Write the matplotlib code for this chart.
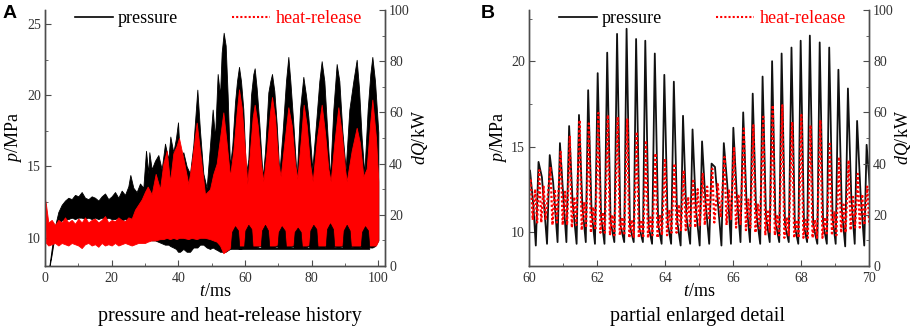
import matplotlib
matplotlib.use("Agg")
import matplotlib.pyplot as plt
from matplotlib.lines import Line2D
from matplotlib.ticker import MultipleLocator

plt.rcParams['font.family'] = 'Liberation Serif'
plt.rcParams['mathtext.fontset'] = 'custom'
plt.rcParams['mathtext.rm'] = 'Liberation Serif'
plt.rcParams['mathtext.it'] = 'Liberation Serif:italic'

# ---- panel A : envelope of pressure (MPa) ----
a_t = [1.0, 2.0, 3.0, 4.0, 5.0, 6, 7, 8, 9, 10, 11, 12, 13, 14, 15, 16, 17, 18, 19, 20,
       21, 22, 23, 24, 25, 25.6, 26.5, 27.5, 28.5, 29.5, 30.3, 31.0, 31.3, 32.0, 33.0, 34.0,
       35.0, 36.0, 37.0, 37.6, 38.5, 39.3, 39.9, 40.5, 41.5, 42.5, 43.5, 44.5, 45.7, 46.5,
       47.5, 48.5, 49.5, 50.3, 51.0, 51.8, 52.5, 53.0, 53.6, 54.2, 54.8, 55.5, 56.2, 57.0,
       57.6, 58.2, 58.8, 59.5, 60.3, 61.0, 61.8, 62.5, 62.9, 63.5, 64.3, 65.3, 66.0, 67.0,
       67.6, 68.1, 68.8, 69.5, 70.3, 71.3, 72.3, 73.0, 73.6, 74.5, 75.5, 76.5, 77.5, 78.3,
       79.0, 80.2, 81.3, 82.3, 83.0, 83.8, 84.8, 85.5, 86.5, 87.5, 88.3, 89.2, 90.2, 91.3,
       92.5, 93.5, 94.2, 95.0, 95.8, 96.8, 97.6, 98.2, 99.0, 100.0]
a_p_hi = [7.5, 9.2, 10.8, 11.8, 12.3, 12.6, 12.8, 12.7, 13.0, 12.9, 13.2, 12.8, 12.7, 12.9,
          12.8, 12.6, 12.9, 13.1, 12.7, 12.9, 13.2, 12.8, 13.3, 13.0, 13.6, 14.4, 13.5, 13.2,
          13.8, 13.5, 16.1, 14.5, 16.0, 14.8, 15.4, 15.8, 14.8, 16.6, 15.5, 17.1, 16.0, 17.0,
          18.1, 15.5, 16.0, 15.0, 14.5, 16.5, 20.4, 17.5, 14.5, 13.5, 16.5, 19.0, 17.0, 21.5,
          20.0, 23.0, 24.4, 23.5, 20.0, 15.0, 16.5, 19.5, 21.0, 22.0, 21.0, 19.0, 14.5, 15.5,
          20.0, 21.5, 21.9, 20.5, 18.0, 14.2, 16.0, 20.2, 21.0, 21.5, 20.3, 18.0, 14.5, 17.5,
          21.0, 22.7, 21.0, 18.0, 14.2, 19.0, 21.3, 20.0, 18.5, 14.8, 18.0, 21.0, 22.4, 21.0,
          17.0, 14.2, 19.0, 22.2, 21.0, 17.5, 14.8, 19.0, 21.0, 22.5, 20.5, 17.0, 14.5, 19.0,
          21.5, 22.7, 21.0, 17.4]
a_p_lo = [7.5, 8.8, 10.3, 11.0, 11.2, 11.3, 11.3, 11.4, 11.3, 11.4, 11.4, 11.3, 11.4, 11.3,
          11.4, 11.3, 11.4, 11.3, 11.4, 11.3, 11.3, 11.4, 11.2, 11.3, 11.2, 11.0, 11.0, 10.6,
          10.5, 10.2, 10.0, 10.0, 10.0, 9.8, 9.8, 9.7, 9.6, 9.5, 9.5, 9.4, 9.3, 9.2,
          9.0, 9.0, 9.2, 9.0, 9.0, 9.3, 9.3, 9.5, 9.5, 9.3, 9.2, 9.3, 9.2, 9.1,
          9.0, 9.0, 9.0, 9.0, 9.1, 9.2, 9.3, 9.3, 9.3, 9.2, 9.2, 9.3, 9.4, 9.4,
          9.3, 9.3, 9.3, 9.3, 9.4, 9.4, 9.4, 9.3, 9.3, 9.3, 9.3, 9.4, 9.4, 9.4,
          9.3, 9.3, 9.3, 9.4, 9.4, 9.4, 9.3, 9.3, 9.4, 9.4, 9.4, 9.3, 9.3, 9.3,
          9.4, 9.4, 9.4, 9.3, 9.3, 9.4, 9.4, 9.4, 9.3, 9.3, 9.3, 9.4, 9.4, 9.4,
          9.3, 9.3, 9.4, 9.8]

# panel A : envelope of heat release (kW)
a_tq = [0.0, 0.3, 1, 2, 3, 4, 5, 6, 7, 8, 9, 10, 11, 12, 13, 14, 15, 16, 17, 18, 19, 20,
        21, 22, 23, 24, 25, 26, 27, 28, 29, 30,
        30.8, 32, 33.2, 34.5, 35.5, 36.5, 37.5, 38.5, 39.5, 40.2, 41.5, 43, 44, 45.5, 46.5,
        48, 49.5, 50.5, 51.5, 52.5, 53.5, 54.5, 55.5, 56.5, 57.5, 58.2, 59, 60, 60.7, 61.5,
        62.3, 62.9, 63.8, 64.8, 65.5, 66.5, 67.5, 68.1, 69, 70, 70.7, 71.8, 73, 74, 75, 75.7,
        76.8, 77.6, 78.5, 79.5, 80.3, 81.6, 83, 84, 85, 85.7, 86.8, 88, 89, 90, 90.5, 92,
        93.5, 94.5, 95.5, 96.5, 97.5, 98.2, 99.3, 100]
a_q_hi = [26, 24, 17, 18, 16, 18, 17, 19, 17, 18, 16.5, 18.5, 17, 19, 17, 18, 18.5, 17, 18,
          19.5, 17, 18, 17.5, 19, 18, 17.5, 19, 18.5, 22, 24, 26, 29,
          31, 28, 36, 30, 40, 45, 33, 44, 47, 50, 42, 32, 40, 56, 45, 28, 30, 36, 40, 50,
          60, 48, 35, 45, 60, 69, 62, 45, 32, 45, 58, 63, 55, 40, 33, 45, 60, 66, 58, 40,
          35, 48, 62, 55, 40, 34, 50, 63, 55, 40, 33, 50, 63, 52, 38, 33, 48, 62, 52, 38,
          33, 45, 54, 48, 35, 38, 55, 65, 50, 33]
a_q_lo = [20, 9, 8, 8.5, 9, 8, 9, 8.5, 8, 9, 8.5, 8, 7, 8.5, 9, 8, 8.5, 7.5, 9, 8, 8.5, 8,
          9, 8, 8.5, 9, 8.5, 8, 8.5, 9, 9, 9,
          9.5, 10, 10, 10.5, 10.5, 11, 10.5, 11, 10.5, 11, 11, 10.5, 11, 10.5, 11, 11, 10.5,
          10, 9.5, 8, 5, 6, 7, 8, 8, 8, 8, 8, 8.5, 8, 8, 8, 8, 8, 8.5, 8, 8, 8, 8, 8.5,
          8, 8, 8, 8, 8.5, 8, 8, 8, 8, 8.5, 8, 8, 8, 8, 8.5, 8, 8, 8, 8, 8.5,
          8, 8, 8, 8, 8.5, 8, 8, 8, 8, 10]

# panel A : low pressure bumps that show through the red band
a_bump_t = [55.7, 56.1, 57.0, 57.9, 58.3, 59.7, 60.1, 61.0, 61.9, 62.3,
            64.7, 65.1, 66.0, 66.9, 67.3, 69.7, 70.1, 71.0, 71.9, 72.3,
            74.5, 74.9, 75.8, 76.7, 77.1, 79.2, 79.6, 80.5, 81.4, 81.8,
            84.2, 84.6, 85.5, 86.4, 86.8, 89.2, 89.6, 90.5, 91.4, 91.8,
            94.7, 95.1, 96.0, 96.9, 97.3]
a_bump_p = [9.3, 10.4, 10.8, 10.5, 9.3, 9.3, 10.5, 10.9, 10.6, 9.3,
            9.3, 10.5, 10.9, 10.5, 9.3, 9.3, 10.4, 10.8, 10.5, 9.3,
            9.3, 10.4, 10.7, 10.4, 9.3, 9.3, 10.5, 10.9, 10.6, 9.3,
            9.3, 10.6, 11.0, 10.6, 9.3, 9.3, 10.5, 10.9, 10.5, 9.3,
            9.3, 10.4, 10.8, 10.5, 9.3]

# ---- panel B : pressure cycles (MPa) ----
b_peak_t = [60.03, 60.28, 60.61, 60.91, 61.18, 61.47, 61.74, 62.02, 62.30, 62.59,
            62.87, 63.15, 63.42, 63.70, 63.98, 64.26, 64.53, 64.81, 65.09, 65.37,
            65.73, 66.01, 66.30, 66.58, 66.87, 67.15, 67.43, 67.72, 67.99, 68.26,
            68.55, 68.83, 69.10, 69.38, 69.65, 69.93]
b_peak_p = [13.6, 14.1, 14.5, 15.2, 16.2, 16.85, 18.3, 19.3, 20.5, 21.6,
            21.9, 21.3, 21.2, 20.45, 19.2, 18.8, 16.8, 16.0, 15.3, 14.0,
            15.2, 16.1, 17.0, 18.1, 19.1, 20.0, 20.45, 20.8, 21.2, 21.5,
            21.1, 20.8, 19.5, 18.4, 16.5, 15.1]
b_mid_t = [60.13, 60.38, 60.71, 61.01, 61.28, 61.57, 61.84, 62.12, 62.40, 62.69,
           62.97, 63.25, 63.52, 63.80, 64.08, 64.36, 64.63, 64.91, 65.19, 65.47,
           65.83, 66.11, 66.40, 66.68, 66.97, 67.25, 67.53, 67.82, 68.09, 68.36,
           68.65, 68.93, 69.20, 69.48, 69.75, 70.03]
b_mid_p = [11.5, 13.2, 12.9, 12.0, 11.8, 11.5, 11.2, 10.9, 10.6, 10.4,
           10.3, 10.2, 10.3, 10.4, 10.5, 10.6, 10.9, 11.3, 11.8, 13.8,
           12.8, 12.2, 11.6, 11.2, 10.9, 10.6, 10.4, 10.3, 10.3, 10.4,
           10.5, 10.8, 11.3, 12.0, 12.3, 12.5]
b_low_t = [60.20, 60.53, 60.84, 61.10, 61.40, 61.67, 61.94, 62.22, 62.51, 62.80,
           63.08, 63.35, 63.62, 63.90, 64.18, 64.46, 64.74, 65.02, 65.30, 65.66,
           65.94, 66.22, 66.50, 66.80, 67.08, 67.36, 67.64, 67.92, 68.18, 68.48,
           68.76, 69.02, 69.30, 69.58, 69.86]
b_low_p = [9.2, 9.3, 9.4, 9.4, 9.3, 9.4, 9.3, 9.3, 9.4, 9.4,
           9.4, 9.4, 9.3, 9.3, 9.3, 9.2, 9.3, 9.2, 9.3, 9.2,
           9.3, 9.4, 9.4, 9.3, 9.4, 9.4, 9.4, 9.3, 9.4, 9.3,
           9.3, 9.3, 9.15, 9.3, 9.2]

# panel B : heat release cycles (kW)
b_q_peak_t = [60.05, 60.30, 60.63, 60.93, 61.20, 61.49, 61.76, 62.04, 62.32, 62.61,
              62.89, 63.17, 63.44, 63.72, 64.00, 64.28, 64.55, 64.83, 65.11, 65.39,
              65.75, 66.03, 66.32, 66.60, 66.89, 67.17, 67.45, 67.74, 68.01, 68.28,
              68.57, 68.85, 69.12, 69.40, 69.67, 69.95]
b_q_peak = [33.5, 37.4, 38.7, 44.6, 50.5, 57, 55.7, 59.8, 59, 58.3,
            57.6, 52.4, 49, 44, 42, 40, 37.4, 34, 36, 38,
            42.6, 46.5, 53.7, 55, 58.3, 62.8, 62.8, 56.3, 59, 55,
            57, 48.5, 42.6, 41.3, 36, 31]
b_q_low1_t = [60.11, 60.36, 60.69, 60.99, 61.26, 61.55, 61.82, 62.10, 62.38, 62.67,
              62.95, 63.23, 63.50, 63.78, 64.06, 64.34, 64.61, 64.89, 65.17, 65.45,
              65.81, 66.09, 66.38, 66.66, 66.95, 67.23, 67.51, 67.80, 68.07, 68.34,
              68.63, 68.91, 69.18, 69.46, 69.73, 70.01]
b_q_low1 = [18, 17, 16, 16, 15, 14, 13, 13, 12, 12,
            11, 11, 11, 11, 12, 13, 14, 15, 16, 17,
            16, 15, 14, 13, 12, 12, 11, 11, 11, 11,
            11, 12, 13, 14, 15, 16]
b_q_hump_t = [60.18, 60.43, 60.76, 61.06, 61.33, 61.62, 61.89, 62.17, 62.45, 62.74,
              63.02, 63.30, 63.57, 63.85, 64.13, 64.41, 64.68, 64.96, 65.24, 65.55,
              65.88, 66.16, 66.45, 66.73, 67.02, 67.30, 67.58, 67.87, 68.14, 68.41,
              68.70, 68.98, 69.25, 69.53, 69.80]
b_q_hump = [30, 31, 30, 29, 27, 25, 23, 21, 20, 19,
            18, 18, 19, 20, 22, 24, 27, 30, 31, 32,
            30, 28, 26, 24, 22, 20, 19, 18, 18, 18,
            19, 21, 24, 27, 28]
b_q_low2_t = [60.24, 60.49, 60.82, 61.12, 61.39, 61.68, 61.95, 62.23, 62.51, 62.80,
              63.08, 63.36, 63.63, 63.91, 64.19, 64.47, 64.74, 65.02, 65.30, 65.64,
              65.94, 66.22, 66.51, 66.79, 67.08, 67.36, 67.64, 67.93, 68.20, 68.47,
              68.76, 69.04, 69.31, 69.59, 69.86]
b_q_low2 = [17, 18, 17, 16, 16, 15, 14, 13, 12, 12,
            11, 11, 12, 12, 13, 14, 15, 16, 18, 19,
            18, 16, 15, 14, 13, 12, 12, 11, 11, 11,
            12, 12, 13, 15, 16]

SPINE = '#4d4d4d'
TICK = '#333333'


def style(ax, ax2, xlim, ylim, xmaj, ymaj):
    ax.set_xlim(xlim)
    ax.set_ylim(ylim)
    ax2.set_ylim(0, 100)
    ax.xaxis.set_major_locator(MultipleLocator(xmaj))
    ax.xaxis.set_minor_locator(MultipleLocator(xmaj / 2))
    ax.yaxis.set_major_locator(MultipleLocator(ymaj))
    ax.yaxis.set_minor_locator(MultipleLocator(ymaj / 2))
    ax2.yaxis.set_major_locator(MultipleLocator(20))
    ax2.yaxis.set_minor_locator(MultipleLocator(10))
    for a in (ax, ax2):
        a.spines['top'].set_visible(False)
        for s in a.spines.values():
            s.set_color(SPINE)
            s.set_linewidth(1.0)
        a.tick_params(which='both', direction='in', colors=SPINE, labelcolor=TICK,
                      labelsize=10, pad=3)
        a.tick_params(which='major', length=4)
        a.tick_params(which='minor', length=2.5)
    ax.tick_params(axis='x', which='both', pad=4)
    ax.set_xlabel('$\\it{t}$/ms', fontsize=13)
    ax.set_ylabel('$\\it{p}$/MPa', fontsize=13)
    ax2.set_ylabel('$\\it{dQ}$/kW', fontsize=13)


def legend(ax):
    h = [Line2D([], [], color='black', lw=1.2),
         Line2D([], [], color='red', lw=1.5, ls=(0, (1, 1)))]
    leg = ax.legend(h, ['pressure', 'heat-release'], ncol=2, frameon=False,
                    fontsize=13, loc='center', bbox_to_anchor=(0.51, 0.965),
                    handlelength=2.1, handletextpad=0.3, columnspacing=3.0,
                    borderpad=0, borderaxespad=0)
    leg.get_texts()[1].set_color('red')


fig = plt.figure(figsize=(9.13, 3.31), dpi=100)
W, H = 913, 331
axA = fig.add_axes([45 / W, 1 - 266 / H, 340 / W, 256 / H])
axB = fig.add_axes([529 / W, 1 - 266 / H, 340 / W, 256 / H])

# panel A
axA.fill_between(a_t, a_p_lo, a_p_hi, color='black', lw=0.6)
axA2 = axA.twinx()
axA2.fill_between(a_tq, a_q_lo, a_q_hi, color='red', lw=0.6)
axA3 = axA.twinx()
axA3.fill_between(a_bump_t, 9.2, a_bump_p, color='black', lw=0.5)
axA3.set_ylim(8, 26)
axA3.axis('off')
style(axA, axA2, (0, 102), (8, 26), 20, 5)
legend(axA3)

# panel B
b_t, b_p = [60.0], [12.6]
for i in range(len(b_peak_t)):
    b_t += [b_peak_t[i], b_mid_t[i]]
    b_p += [b_peak_p[i], b_mid_p[i]]
    if i < len(b_low_t):
        b_t.append(b_low_t[i])
        b_p.append(b_low_p[i])
q_t, q_v = [60.0], [30]
for i in range(len(b_q_peak_t)):
    q_t += [b_q_peak_t[i], b_q_low1_t[i]]
    q_v += [b_q_peak[i], b_q_low1[i]]
    if i < len(b_q_hump_t):
        q_t += [b_q_hump_t[i], b_q_low2_t[i]]
        q_v += [b_q_hump[i], b_q_low2[i]]

axB.plot(b_t, b_p, color='#111111', lw=1.3)
axB2 = axB.twinx()
axB2.plot(q_t, q_v, color='red', lw=1.6, ls=(0, (1, 1)))
style(axB, axB2, (60, 70), (8, 23), 2, 5)
legend(axB2)

# label placement
axA.yaxis.set_label_coords(-0.062, 0.5)
axA2.yaxis.set_label_coords(1.075, 0.5)
axB.yaxis.set_label_coords(-0.058, 0.5)
axB2.yaxis.set_label_coords(1.07, 0.5)
for a in (axA, axB):
    a.xaxis.set_label_coords(0.5, -0.065)

fig.text(9.5 / W, 1 - 14 / H, 'A', family='Liberation Sans', weight='bold',
         fontsize=14, ha='center', va='center')
fig.text(488 / W, 1 - 14 / H, 'B', family='Liberation Sans', weight='bold',
         fontsize=14, ha='center', va='center')
fig.text(230 / W, 1 - 316 / H, 'pressure and heat-release history', fontsize=14.5,
         ha='center', va='center')
fig.text(697 / W, 1 - 316 / H, 'partial enlarged detail', fontsize=14.5,
         ha='center', va='center')

fig.savefig('out.png', dpi=100)
